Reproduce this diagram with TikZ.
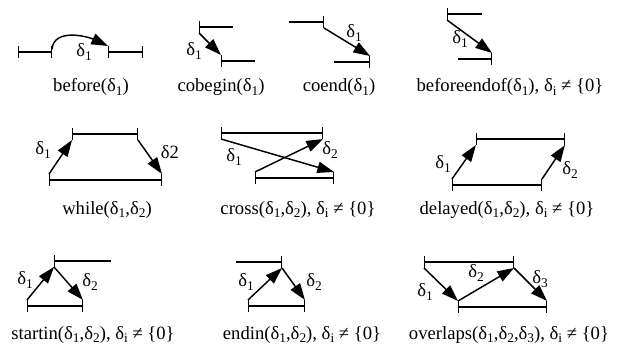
\documentclass[tikz,border=0pt]{standalone}
\usepackage{fontspec}
\setmainfont{Liberation Serif}
\usetikzlibrary{arrows.meta}

% delta with a lowered index
\newcommand\dlt[1]{δ\raisebox{-0.45ex}{\fontsize{10}{10}\selectfont #1}}

\begin{document}
\begin{tikzpicture}[x=0.75pt, y=-0.75pt, line width=1.1pt,
    >={Triangle[length=12.5pt,width=8.5pt]}]

    \tikzset{tk/.tip={Bar[width=9pt]},
        iv/.style={tk-tk}, ivl/.style={tk-}, ivr/.style={-tk},
        lbl/.style={font=\fontsize{14}{16}\selectfont, inner sep=0pt},
        capt/.style={font=\fontsize{14}{16}\selectfont, anchor=base, inner sep=0pt}}

    \useasboundingbox (0,0) rectangle (617,349);

    % before
    \coordinate (bA) at (18,52);  \coordinate (bB) at (52,52);
    \coordinate (bC) at (108,52); \coordinate (bD) at (143,52);
    \draw[iv] (bA) -- (bB);
    \draw[iv] (bC) -- (bD);
    \draw[->] ([yshift=2pt]bB) to[out=85,in=155] ([yshift=4.5pt]bC);
    \node[lbl] (bL) at (84,52) {\dlt{1}};
    \node[capt] (bCap) at (91,92) {before(\dlt{1})};

    % cobegin
    \coordinate (cbA) at (199,27); \coordinate (cbB) at (233,27);
    \coordinate (cbC) at (221,61); \coordinate (cbD) at (255,61);
    \draw[ivl] (cbA) -- (cbB);
    \draw[ivl] (cbC) -- (cbD);
    \draw[->] ([yshift=-4.5pt]cbA) -- ([yshift=4.5pt]cbC);
    \node[lbl] (cbL) at (194,51) {\dlt{1}};
    \node[capt] (cbCap) at (221,92) {cobegin(\dlt{1})};

    % coend
    \coordinate (ceA) at (289,22); \coordinate (ceB) at (324,22);
    \coordinate (ceC) at (334,62); \coordinate (ceD) at (370,62);
    \draw[ivr] (ceA) -- (ceB);
    \draw[ivr] (ceC) -- (ceD);
    \draw[->] ([yshift=-4.5pt]ceB) -- ([yshift=4.5pt]ceD);
    \node[lbl] (ceL) at (354,33) {\dlt{1}};
    \node[capt] (ceCap) at (339,92) {coend(\dlt{1})};

    % beforeendof
    \coordinate (beA) at (447,14); \coordinate (beB) at (482,14);
    \coordinate (beC) at (458,59); \coordinate (beD) at (492,59);
    \draw[ivl] (beA) -- (beB);
    \draw[ivr] (beC) -- (beD);
    \draw[->] ([yshift=-4.5pt]beA) -- ([yshift=4.5pt]beD);
    \node[lbl] (beL) at (460,39) {\dlt{1}};
    \node[capt] (beCap) at (510,92) {beforeendof(\dlt{1}), \dlt{i} ≠ \{0\}};

    % while
    \coordinate (wA) at (72,134); \coordinate (wB) at (138,134);
    \coordinate (wC) at (49,180); \coordinate (wD) at (162,180);
    \draw[iv] (wA) -- (wB);
    \draw[iv] (wC) -- (wD);
    \draw[->] ([yshift=4.5pt]wC) -- ([yshift=-4.5pt]wA);
    \draw[->] ([yshift=-4.5pt]wB) -- ([yshift=4.5pt]wD);
    \node[lbl] (wL1) at (43,150) {\dlt{1}};
    \node[lbl] (wL2) at (170,152) {δ2};
    \node[capt] (wCap) at (107,214) {while(\dlt{1},\dlt{2})};

    % cross
    \coordinate (crA) at (221,133); \coordinate (crB) at (323,133);
    \coordinate (crC) at (255,178); \coordinate (crD) at (334,178);
    \draw[iv] (crA) -- (crB);
    \draw[iv] (crC) -- (crD);
    \draw[->] ([yshift=-4.5pt]crA) -- ([yshift=4.5pt]crD);
    \draw[->] ([yshift=4.5pt]crC) -- ([yshift=-4.5pt]crB);
    \node[lbl] (crL1) at (234,157) {\dlt{1}};
    \node[lbl] (crL2) at (330,150) {\dlt{2}};
    \node[capt] (crCap) at (298,214) {cross(\dlt{1},\dlt{2}), \dlt{i} ≠ \{0\}};

    % delayed
    \coordinate (dlA) at (476,139); \coordinate (dlB) at (565,139);
    \coordinate (dlC) at (452,185); \coordinate (dlD) at (542,185);
    \draw[iv] (dlA) -- (dlB);
    \draw[iv] (dlC) -- (dlD);
    \draw[->] ([yshift=4.5pt]dlC) -- ([yshift=-4.5pt]dlA);
    \draw[->] ([yshift=4.5pt]dlD) -- ([yshift=-4.5pt]dlB);
    \node[lbl] (dlL1) at (443,164) {\dlt{1}};
    \node[lbl] (dlL2) at (570,170) {\dlt{2}};
    \node[capt] (dlCap) at (507,214) {delayed(\dlt{1},\dlt{2}), \dlt{i} ≠ \{0\}};

    % startin
    \coordinate (siA) at (54,261); \coordinate (siB) at (111,261);
    \coordinate (siC) at (27,306); \coordinate (siD) at (83,306);
    \draw[ivl] (siA) -- (siB);
    \draw[iv] (siC) -- (siD);
    \draw[->] ([yshift=4.5pt]siC) -- ([yshift=-4.5pt]siA);
    \draw[->] ([yshift=-4.5pt]siA) -- ([yshift=4.5pt]siD);
    \node[lbl] (siL1) at (25,280) {\dlt{1}};
    \node[lbl] (siL2) at (90,282) {\dlt{2}};
    \node[capt] (siCap) at (93,339) {startin(\dlt{1},\dlt{2}), \dlt{i} ≠ \{0\}};

    % endin
    \coordinate (eiA) at (236,262); \coordinate (eiB) at (282,262);
    \coordinate (eiC) at (248,306); \coordinate (eiD) at (305,306);
    \draw[ivr] (eiA) -- (eiB);
    \draw[iv] (eiC) -- (eiD);
    \draw[->] ([yshift=4.5pt]eiC) -- ([yshift=-4.5pt]eiB);
    \draw[->] ([yshift=-4.5pt]eiB) -- ([yshift=4.5pt]eiD);
    \node[lbl] (eiL1) at (246,282) {\dlt{1}};
    \node[lbl] (eiL2) at (314,282) {\dlt{2}};
    \node[capt] (eiCap) at (302,339) {endin(\dlt{1},\dlt{2}), \dlt{i} ≠ \{0\}};

    % overlaps
    \coordinate (ovA) at (424,262); \coordinate (ovB) at (514,262);
    \coordinate (ovC) at (458,307); \coordinate (ovD) at (547,307);
    \draw[iv] (ovA) -- (ovB);
    \draw[iv] (ovC) -- (ovD);
    \draw[->] ([yshift=-4.5pt]ovA) -- ([yshift=4.5pt]ovC);
    \draw[->] ([yshift=4.5pt]ovC) -- ([yshift=-4.5pt]ovB);
    \draw[->] ([yshift=-4.5pt]ovB) -- ([yshift=4.5pt]ovD);
    \node[lbl] (ovL1) at (425,292) {\dlt{1}};
    \node[lbl] (ovL2) at (476,273) {\dlt{2}};
    \node[lbl] (ovL3) at (540,279) {\dlt{3}};
    \node[capt] (ovCap) at (509,339) {overlaps(\dlt{1},\dlt{2},\dlt{3}), \dlt{i} ≠ \{0\}};

\end{tikzpicture}
\end{document}
